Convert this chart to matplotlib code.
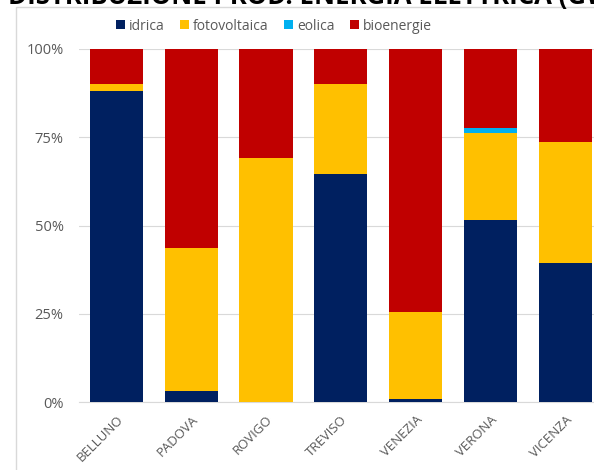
import matplotlib
matplotlib.use("Agg")
import matplotlib.pyplot as plt
from matplotlib.patches import Rectangle
from matplotlib.ticker import FuncFormatter
import numpy as np

categories = ["BELLUNO", "PADOVA", "ROVIGO", "TREVISO", "VENEZIA", "VERONA", "VICENZA"]
idrica = [88.2, 3.0, 0.0, 64.5, 0.8, 51.6, 39.3]
fotovoltaica = [1.9, 40.5, 69.0, 25.5, 24.8, 24.7, 34.3]
eolica = [0.0, 0.0, 0.0, 0.0, 0.0, 1.3, 0.0]
bioenergie = [9.9, 56.5, 31.0, 10.0, 74.4, 22.4, 26.4]
series_names = ["idrica", "fotovoltaica", "eolica", "bioenergie"]
colors = ["#002060", "#FFC000", "#00B0F0", "#C00000"]
title = "DISTRIBUZIONE PROD. ENERGIA ELETTRICA (GWh)"
yticks = [0, 25, 50, 75, 100]

plt.rcParams['font.family'] = ['Open Sans', 'DejaVu Sans']
W, H = 594, 470
fig = plt.figure(figsize=(W / 100, H / 100), dpi=100)

# chart border (light gray), cropped at right/bottom
fig.patches.append(Rectangle((16 / W, -0.1), 1.2, 1 - 7 / H + 0.1, transform=fig.transFigure,
                             fill=False, edgecolor="#d9d9d9", linewidth=1.0, zorder=0))

fig.text(8 / W, 1 - 4 / H, title, fontsize=18.5, fontweight='bold', color='black',
         ha='left', va='baseline', family=['Open Sans', 'DejaVu Sans'])

left, right = 79, 602.6
top, bottom = 49, 402
ax = fig.add_axes([left / W, 1 - bottom / H, (right - left) / W, (bottom - top) / H])

x = np.arange(len(categories))
data = [idrica, fotovoltaica, eolica, bioenergie]
totals = np.sum(np.array(data), axis=0)
base = np.zeros(len(categories))
handles = []
for name, vals, col in zip(series_names, data, colors):
    v = np.array(vals) / totals
    b = ax.bar(x, v, 0.71, bottom=base, color=col, label=name, zorder=3, linewidth=0)
    handles.append(b)
    base += v

ax.set_xlim(-0.5, len(categories) - 0.5)
ax.set_ylim(0, 1)
ax.set_yticks([t / 100 for t in yticks])
ax.yaxis.set_major_formatter(FuncFormatter(lambda v, p: f"{int(round(v * 100))}%"))
ax.grid(axis='y', color='#d9d9d9', linewidth=0.8, zorder=0)
for s in ['top', 'right', 'left']:
    ax.spines[s].set_visible(False)
ax.spines['bottom'].set_color('#d9d9d9')
ax.spines['bottom'].set_linewidth(0.8)
ax.tick_params(axis='y', length=0, pad=11, labelsize=10.5, labelcolor='#595959')
ax.tick_params(axis='x', length=0, pad=8, labelsize=9.5, labelcolor='#595959')
ax.set_xticks(x)
ax.set_xticklabels(categories, rotation=45, ha='right', va='top', rotation_mode='anchor')

fig.legend(handles=handles, labels=series_names, loc='center', ncol=4,
           bbox_to_anchor=(274 / W, 1 - 26 / H), frameon=False, fontsize=10,
           labelcolor='#595959', handlelength=0.65, handleheight=0.65, handletextpad=0.3,
           columnspacing=1.1)

fig.savefig("out.png", dpi=100)
